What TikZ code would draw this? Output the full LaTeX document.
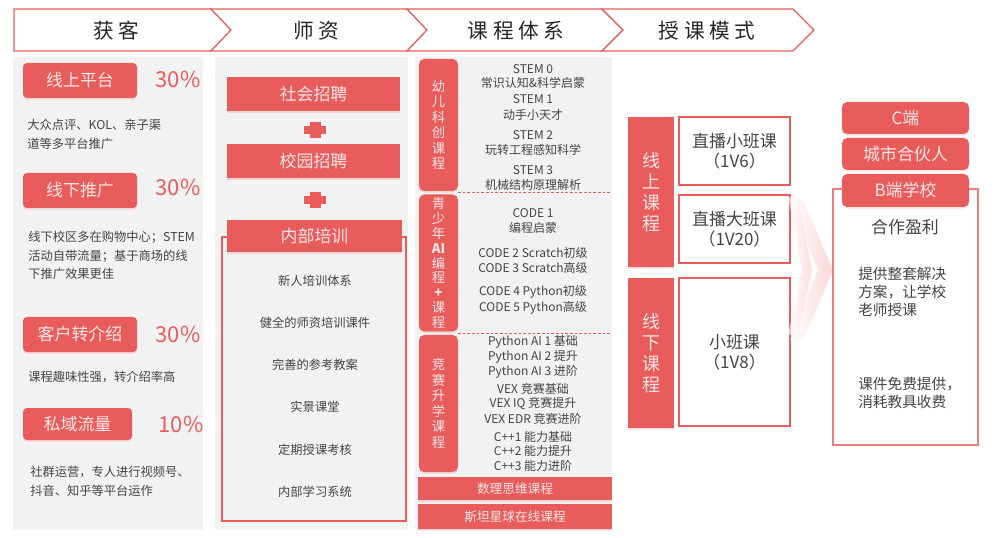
\documentclass[tikz,border=0pt]{standalone}
\usepackage{fontspec}
\setmainfont{Noto Sans CJK SC}
\usepackage{xcolor}
\usepackage{tikz}
\usetikzlibrary{shadows, positioning}

\definecolor{brandred}{HTML}{E85D5B}
\definecolor{panelgray}{HTML}{F2F2F2}
\definecolor{inkgray}{HTML}{444444}
\definecolor{boxtext}{HTML}{FCE6E6}

\begin{document}
\begin{tikzpicture}[x=0.75pt, y=-0.75pt,
	hdr/.style={draw=brandred, line width=0.9pt, fill=white},
	hdrtext/.style={text=black!85, font=\fontsize{15.5}{18}\selectfont\addfontfeature{LetterSpace=22}},
	panel/.style={fill=panelgray},
	wh/.style 2 args={minimum width=#1*0.75pt, minimum height=#2*0.75pt},
	redbox/.style={fill=brandred, inner sep=0pt, text=boxtext, align=center,
		drop shadow={opacity=0.18, shadow xshift=0pt, shadow yshift=-1.2pt, fill=brandred}},
	bigtext/.style={font=\fontsize{12.7}{15}\selectfont},
	pct/.style={text=brandred, font=\fontsize{16.5}{18}\selectfont},
	note/.style={text=inkgray, align=left, anchor=west, inner sep=0pt, font=\fontsize{9.2}{13.9}\selectfont},
	item/.style={text=inkgray, font=\fontsize{9.2}{11}\selectfont},
	course/.style={text=inkgray, inner sep=0pt, font=\fontsize{9}{11}\selectfont},
	tab/.style={redbox, rounded corners=4pt, font=\fontsize{10}{11.6}\selectfont},
	wbox/.style={draw=brandred, line width=0.8pt, fill=white, inner sep=0pt, align=center, text=inkgray,
		font=\fontsize{12.7}{15}\selectfont},
	sep/.style={draw=brandred, line width=0.6pt, dash pattern=on 2pt off 1.5pt}]

	\useasboundingbox (0,0) rectangle (996,538);

	\begin{scope}
		\draw[hdr] (14,9) -- (211,9) -- (231,30) -- (211,51) -- (14,51) -- cycle;
		\draw[hdr] (211,9) -- (407,9) -- (427,30) -- (407,51) -- (211,51) -- (231,30) -- cycle;
		\draw[hdr] (407,9) -- (602,9) -- (623,30) -- (602,51) -- (407,51) -- (427,30) -- cycle;
		\draw[hdr] (602,9) -- (793,9) -- (814,30) -- (793,51) -- (602,51) -- (623,30) -- cycle;
		\node[hdrtext] (hkehu) at (116,31) {获客};
		\node[hdrtext] (hshizi) at (316,31) {师资};
		\node[hdrtext] (hkecheng) at (516,31) {课程体系};
		\node[hdrtext] (hmoshi) at (707,31) {授课模式};
	\end{scope}

	\begin{scope}
		\fill[panel] (13,57) rectangle (203,530);
		\fill[panel] (215,57) rectangle (408,530);
		\fill[panel] (415,57) rectangle (612,530);
	\end{scope}

	\begin{scope}
		\node[redbox, bigtext, rounded corners=3pt, wh={114}{35}] (online) at (80,80.5) {线上平台};
		\node[redbox, bigtext, rounded corners=3pt, wh={114}{35}] (offline) at (80,190.5) {线下推广};
		\node[redbox, bigtext, rounded corners=3pt, wh={114}{35}] (referral) at (80,334.5) {客户转介绍};
		\node[redbox, bigtext, rounded corners=3pt, wh={109}{32}] (private) at (77.5,424) {私域流量};
		\node[pct] (ponline) at (178,79) {30\%};
		\node[pct] (poffline) at (178,187) {30\%};
		\node[pct] (preferral) at (178,334) {30\%};
		\node[pct] (pprivate) at (181,424) {10\%};
		\node[note] (nonline) at (27,134.5) {大众点评、KOL、亲子渠\\道等多平台推广};
		\node[note] (noffline) at (28,255.5) {线下校区多在购物中心；STEM\\活动自带流量；基于商场的线\\下推广效果更佳};
		\node[note] (nreferral) at (28,377) {课程趣味性强，转介绍率高};
		\node[note] (nprivate) at (30,481.5) {社群运营，专人进行视频号、\\抖音、知乎等平台运作};
	\end{scope}

	\begin{scope}
		\draw[brandred, line width=0.8pt] (222,237) rectangle (406,521);
		\node[redbox, bigtext, wh={173}{34}] (social) at (313.5,94) {社会招聘};
		\node[redbox, bigtext, wh={173}{34}] (campus) at (313.5,161) {校园招聘};
		\node[redbox, bigtext, wh={175}{32}] (inner) at (314.5,236) {内部培训};
		\foreach \y in {130,200} {
			\fill[brandred] (304,\y-4) rectangle (326,\y+4);
			\fill[brandred] (309.5,\y-8) rectangle (320.5,\y+8);
		}
		\foreach \y/\t [count=\i] in {281/新人培训体系, 323/健全的师资培训课件, 365/完善的参考教案,
			407/实景课堂, 450/定期授课考核, 492/内部学习系统}
			\node[item] (train\i) at (315,\y) {\t};
	\end{scope}

	\begin{scope}
		\draw[sep] (458,192.5) -- (612,192.5);
		\draw[sep] (458,333) -- (612,333);
		\node[tab, wh={39}{132}] (kids) at (438.5,125) {幼\\儿\\科\\创\\课\\程};
		\node[tab, wh={39}{137}, font=\fontsize{10}{11.1}\selectfont] (teen) at (438.5,263)
			{青\\少\\年\\\textbf{AI}\\编\\程\\\textbf{+}\\课\\程};
		\node[tab, wh={39}{137}] (contest) at (438.5,403.5) {竞\\赛\\升\\学\\课\\程};
		\foreach \y/\t [count=\i] in {69/STEM 0, 83/常识认知\&科学启蒙, 99/STEM 1, 115/动手小天才,
			135/STEM 2, 150/玩转工程感知科学, 170/STEM 3, 185/机械结构原理解析}
			\node[course] (stem\i) at (533,\y) {\t};
		\foreach \y/\t [count=\i] in {213/CODE 1, 228/编程启蒙, 253/CODE 2 Scratch初级, 268/CODE 3 Scratch高级,
			292/CODE 4 Python初级, 308/CODE 5 Python高级}
			\node[course] (code\i) at (533,\y) {\t};
		\foreach \y/\t [count=\i] in {342/Python AI 1 基础, 357/Python AI 2 提升, 372/Python AI 3 进阶,
			389/VEX 竞赛基础, 404/VEX IQ 竞赛提升, 419/VEX EDR 竞赛进阶,
			437/C++1 能力基础, 451/C++2 能力提升, 466/C++3 能力进阶}
			\node[course] (race\i) at (533,\y) {\t};
		\node[redbox, font=\fontsize{9.5}{11}\selectfont, wh={194}{23}] (math) at (515,488.5) {数理思维课程};
		\node[redbox, font=\fontsize{9.5}{11}\selectfont, wh={194}{25}] (stan) at (515,516.5) {斯坦星球在线课程};
	\end{scope}

	\begin{scope}
		\node[redbox, font=\fontsize{13.5}{15.8}\selectfont, wh={46}{150}] (liveon) at (651,192) {线\\上\\课\\程};
		\node[redbox, font=\fontsize{13.5}{15.8}\selectfont, wh={46}{150}] (liveoff) at (651,353) {线\\下\\课\\程};
		\node[wbox, wh={111}{68}] (small) at (734.5,151) {直播小班课\\（1V6）};
		\node[wbox, wh={111}{68}] (large) at (734.5,229) {直播大班课\\（1V20）};
		\node[wbox, wh={111}{148}] (offsmall) at (734.5,352) {小班课\\（1V8）};
	\end{scope}

	\begin{scope}
		\shade[left color=white, right color=brandred!35, opacity=0.6]
			(788,197) -- (798,197) -- (812,270) -- (798,335) -- (788,335) -- (802,270) -- cycle;
		\shade[left color=white, right color=brandred!40, opacity=0.6]
			(790,200) -- (803,200) -- (833,270) -- (803,340) -- (790,340) -- (818,270) -- cycle;
	\end{scope}

	\begin{scope}
		\draw[brandred!80, line width=0.8pt, fill=white] (833,189) rectangle (978,445);
		\node[redbox, bigtext, rounded corners=4pt, wh={127}{32}] (cend) at (905.5,118) {C端};
		\node[redbox, bigtext, rounded corners=4pt, wh={127}{32}] (partner) at (905.5,154) {城市合伙人};
		\node[redbox, bigtext, rounded corners=4pt, wh={127}{33}] (bend) at (905.5,190.5) {B端学校};
		\node[text=inkgray, bigtext] (profit) at (905,227) {合作盈利};
		\node[note, font=\fontsize{11}{13.5}\selectfont] (solution) at (858,292) {提供整套解决\\方案，让学校\\老师授课};
		\node[note, font=\fontsize{11}{13.5}\selectfont] (freeware) at (858,392.5) {课件免费提供，\\消耗教具收费};
	\end{scope}
\end{tikzpicture}
\end{document}
